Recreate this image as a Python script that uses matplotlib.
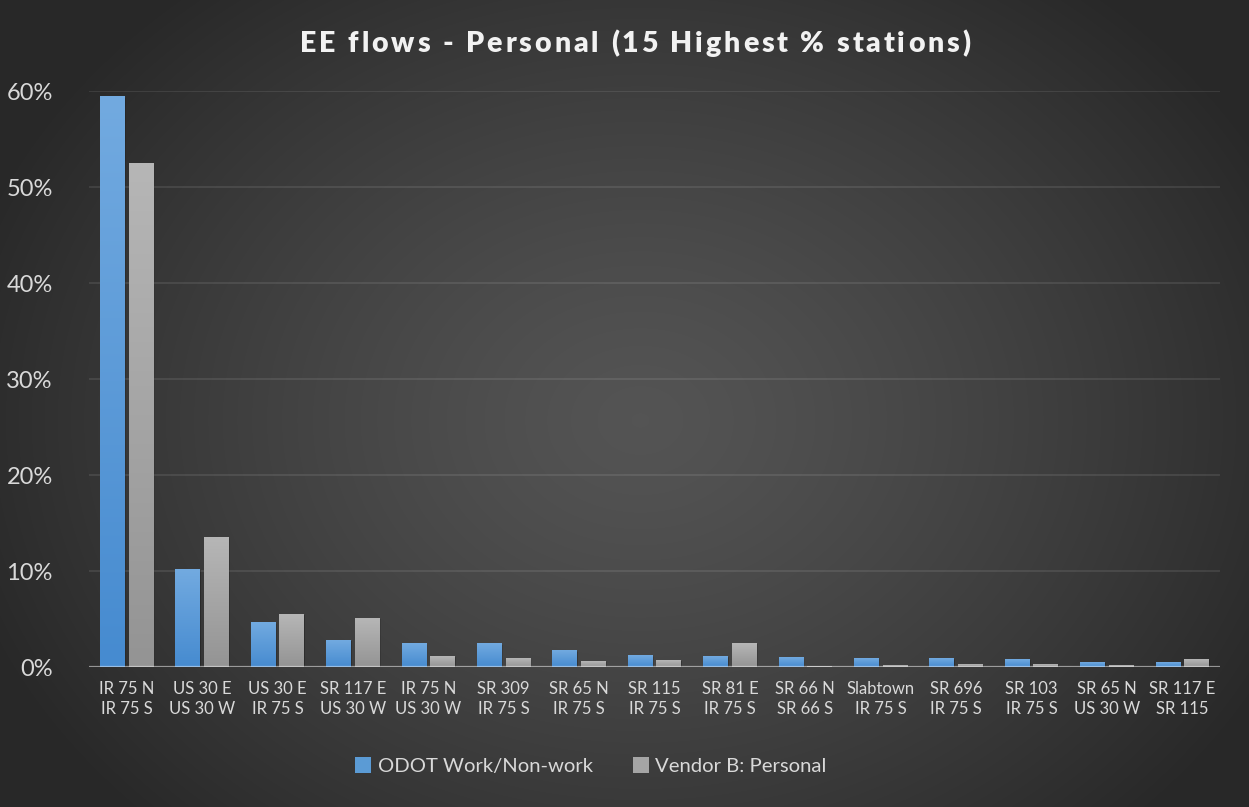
import numpy as np
import matplotlib
matplotlib.use("Agg")
import matplotlib.pyplot as plt
from matplotlib.patches import Rectangle, Patch
from matplotlib.font_manager import FontProperties
from matplotlib.ticker import PercentFormatter

# station pairs (two-line labels) and share of EE personal flows
stations = ["IR 75 N\nIR 75 S", "US 30 E\nUS 30 W", "US 30 E\nIR 75 S", "SR 117 E\nUS 30 W",
            "IR 75 N\nUS 30 W", "SR 309\nIR 75 S", "SR 65 N\nIR 75 S", "SR 115\nIR 75 S",
            "SR 81 E\nIR 75 S", "SR 66 N\nSR 66 S", "Slabtown\nIR 75 S", "SR 696\nIR 75 S",
            "SR 103\nIR 75 S", "SR 65 N\nUS 30 W", "SR 117 E\nSR 115"]
odot = [59.4, 10.2, 4.6, 2.8, 2.4, 2.4, 1.7, 1.2, 1.1, 1.0, 0.9, 0.9, 0.8, 0.5, 0.5]
vendor_b = [52.4, 13.5, 5.5, 5.1, 1.1, 0.9, 0.6, 0.7, 2.5, 0.1, 0.2, 0.3, 0.3, 0.2, 0.8]
y_ticks = [0, 10, 20, 30, 40, 50, 60]

FONT = "Lato"
TEXT_COL = "#d9d9d9"
W, H, DPI = 1249, 807, 100

fig = plt.figure(figsize=(W / DPI, H / DPI), dpi=DPI)

# radial background, lighter in the middle
bg = fig.add_axes([0, 0, 1, 1], zorder=-10)
yy, xx = np.mgrid[0:H, 0:W]
r = np.sqrt(((xx - 640) / 700.0) ** 2 + ((yy - 420) / 560.0) ** 2)
r = np.clip(r, 0, 1)
shade = 0.33 - 0.17 * r ** 1.3
bg.imshow(np.dstack([shade] * 3), aspect="auto", extent=[0, 1, 0, 1], origin="upper")
bg.set_axis_off()

ax = fig.add_axes([89 / W, 1 - 667 / H, (1220 - 89) / W, (667 - 91) / H])
ax.patch.set_alpha(0)
x = np.arange(len(stations))
bw, off = 0.33, 0.19


def gradient_bars(xs, vals, top_col, bot_col):
    top = np.array(matplotlib.colors.to_rgb(top_col))
    bot = np.array(matplotlib.colors.to_rgb(bot_col))
    grad = np.linspace(0, 1, 64)[:, None, None]
    img = top * (1 - grad) + bot * grad
    for xc, v in zip(xs, vals):
        # soft drop shadow
        for k, a in [(4, 0.06), (3, 0.08), (2, 0.10)]:
            ax.add_patch(Rectangle((xc - bw / 2 + k * 0.004, -0.3), bw, v + 0.3 - k * 0.03,
                                   color="black", alpha=a, lw=0, zorder=1))
        ax.imshow(img, extent=[xc - bw / 2, xc + bw / 2, 0, v], aspect="auto",
                  origin="upper", zorder=2, interpolation="bilinear")


gradient_bars(x - off, odot, "#72aae0", "#468bd0")
gradient_bars(x + off, vendor_b, "#b6b6b6", "#949494")

ax.set_xlim(-0.5, len(stations) - 0.5)
ax.set_ylim(0, 60)
ax.set_yticks(y_ticks)
ax.yaxis.set_major_formatter(PercentFormatter(decimals=0))
ax.set_xticks(x)
ax.set_xticklabels(stations, fontsize=12, family=FONT, color=TEXT_COL, linespacing=1.35)
for lbl in ax.get_yticklabels():
    lbl.set_fontsize(17)
    lbl.set_family(FONT)
    lbl.set_color(TEXT_COL)
ax.tick_params(axis="both", length=0)
ax.tick_params(axis="y", pad=26)
ax.tick_params(axis="x", pad=10)
for s in ax.spines.values():
    s.set_visible(False)
ax.grid(axis="y", color="white", alpha=0.09, lw=1.5, zorder=0)
ax.set_axisbelow(True)
ax.axhline(0, color="white", alpha=0.45, lw=1.6, zorder=3)

# title with extra letter spacing, placed glyph by glyph
title = "EE flows - Personal (15 Highest % stations)"
fp = FontProperties(family=FONT, weight="heavy", size=20.5)
renderer = fig.canvas.get_renderer()


def adv(s):
    return renderer.get_text_width_height_descent(s, fp, ismath=False)[0]


spacing = 2.9
widths = [adv("x" + c + "x") - adv("xx") for c in title]
total = sum(widths) + spacing * (len(title) - 1)
px = 635 - total / 2
for c, w in zip(title, widths):
    fig.text(px / W, 1 - 52 / H, c, fontproperties=fp, color="#f2f2f2",
             ha="left", va="baseline")
    px += w + spacing

handles = [Patch(facecolor="#5b9bd5", label="ODOT Work/Non-work"),
           Patch(facecolor="#a5a5a5", label="Vendor B: Personal")]
leg = fig.legend(handles=handles, loc="center", bbox_to_anchor=(591 / W, 1 - 766 / H), ncol=2,
                 frameon=False, prop=FontProperties(family=FONT, size=14.6),
                 handlelength=0.8, handleheight=0.8, handletextpad=0.3, columnspacing=2.0)
for t in leg.get_texts():
    t.set_color(TEXT_COL)

fig.savefig("out.png", dpi=DPI)
